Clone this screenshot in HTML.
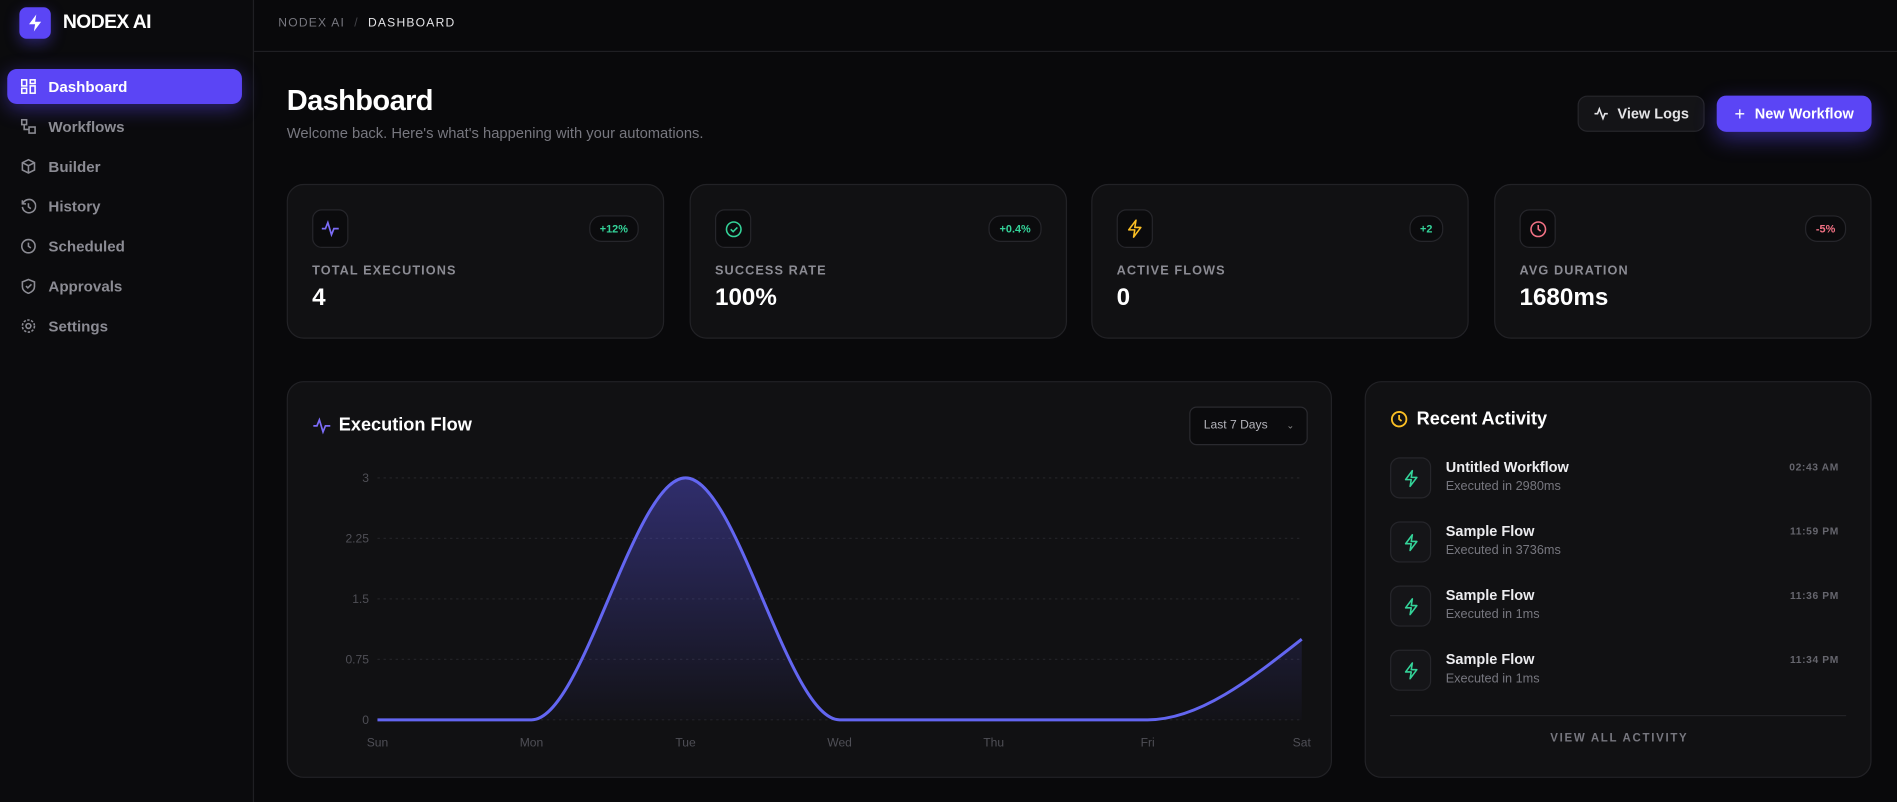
<!DOCTYPE html>
<html><head><meta charset="utf-8">
<style>
html,body{margin:0;padding:0;background:#09090b;overflow:hidden;}
body{width:1897px;height:802px;font-family:"Liberation Sans",sans-serif;}
#root{position:absolute;left:0;top:0;width:1568px;height:663px;transform:scale(1.2098);transform-origin:0 0;background:#09090b;color:#fff;}
.abs{position:absolute;}
.sidebar{left:0;top:0;width:210px;height:663px;background:#0b0b0d;border-right:1px solid #1f1f23;box-sizing:border-box;}
.nav{position:absolute;left:6px;width:194px;height:29px;border-radius:8px;display:flex;align-items:center;font-size:12.5px;font-weight:bold;color:#8b8b93;}
.nav svg{margin-left:11px;margin-right:10px;}
.nav.active{background:#5b45f5;color:#fff;box-shadow:0 4px 16px rgba(91,69,245,.45);}
.card{position:absolute;background:#111113;border:1px solid #222226;border-radius:14px;box-sizing:border-box;}
.ibox{position:absolute;left:20px;top:20px;width:28px;height:30px;border:1px solid #26262b;border-radius:8px;background:#0b0b0d;display:flex;align-items:center;justify-content:center;}
.badge{position:absolute;right:20px;top:25px;height:20px;padding:0 8px;border:1px solid #26262b;border-radius:10px;background:#0b0b0d;font-size:9px;font-weight:bold;line-height:20px;}
.lbl{position:absolute;left:20px;top:65px;font-size:10.5px;font-weight:bold;letter-spacing:0.9px;color:#8b8b93;}
.val{position:absolute;left:20px;top:82px;font-size:20px;font-weight:bold;color:#fff;}
.act{position:absolute;left:20px;width:377px;height:34px;}
.act .ib{position:absolute;left:0;top:0;width:32px;height:32px;border:1px solid #26262b;border-radius:8px;background:#151518;display:flex;align-items:center;justify-content:center;}
.act .n{position:absolute;left:46px;top:1px;font-size:12px;font-weight:bold;color:#ececef;}
.act .s{position:absolute;left:46px;top:18px;font-size:10.5px;color:#77777f;}
.act .t{position:absolute;right:6px;top:3px;font-size:8.5px;font-weight:bold;color:#66666e;letter-spacing:.5px;}
</style></head><body>
<div id="root">
<div class="abs sidebar">
  <div class="abs" style="left:16px;top:6px;width:26px;height:26px;border-radius:6px;background:#5b45f5;display:flex;align-items:center;justify-content:center;box-shadow:0 4px 12px rgba(91,69,245,.4)">
    <svg width="14" height="16" viewBox="0 0 14 16"><path d="M8 1L2 9h5l-1 6 6-8H7z" fill="#fff"/></svg></div>
  <div class="abs" style="left:52px;top:10px;font-size:16px;font-weight:bold;letter-spacing:-.5px">NODEX AI</div>
  <div class="nav active" style="top:57px"><svg width="13" height="13" viewBox="0 0 13 13" fill="none" stroke="#fff" stroke-width="1.3"><rect x="1" y="1" width="4" height="5"/><rect x="8" y="1" width="4" height="3"/><rect x="1" y="8" width="4" height="4"/><rect x="8" y="6" width="4" height="6"/></svg>Dashboard</div>
  <div class="nav" style="top:90px"><svg width="13" height="13" viewBox="0 0 13 13" fill="none" stroke="#8b8b93" stroke-width="1.3"><rect x="1" y="1" width="4" height="4"/><rect x="7" y="7" width="5" height="5"/><path d="M3 5v4h4"/></svg>Workflows</div>
  <div class="nav" style="top:123px"><svg width="13" height="13" viewBox="0 0 13 13" fill="none" stroke="#8b8b93" stroke-width="1.3"><path d="M6.5 1l5 2.5v6L6.5 12l-5-2.5v-6z M1.5 3.5l5 2.5 5-2.5 M6.5 6v6"/></svg>Builder</div>
  <div class="nav" style="top:156px"><svg width="13" height="13" viewBox="0 0 13 13" fill="none" stroke="#8b8b93" stroke-width="1.3"><path d="M2 4a5.5 5.5 0 1 1-.5 3 M1.5 1.5V4.5H4.5 M6.5 4v3l2 1.5"/></svg>History</div>
  <div class="nav" style="top:189px"><svg width="13" height="13" viewBox="0 0 13 13" fill="none" stroke="#8b8b93" stroke-width="1.3"><circle cx="6.5" cy="6.5" r="5.5"/><path d="M6.5 3.5v3l2 1.5"/></svg>Scheduled</div>
  <div class="nav" style="top:222px"><svg width="13" height="13" viewBox="0 0 13 13" fill="none" stroke="#8b8b93" stroke-width="1.3"><path d="M6.5 1l5 2v4c0 3-2.5 4.5-5 5.5-2.5-1-5-2.5-5-5.5V3z M4.5 6.5l1.5 1.5 3-3"/></svg>Approvals</div>
  <div class="nav" style="top:255px"><svg width="13" height="13" viewBox="0 0 13 13" fill="none" stroke="#8b8b93" stroke-width="1.3"><circle cx="6.5" cy="6.5" r="2"/><circle cx="6.5" cy="6.5" r="5" stroke-dasharray="2 1.2"/></svg>Settings</div>
</div>

<div class="abs" style="left:210px;top:42px;width:1358px;height:1px;background:#1f1f23"></div>
<div class="abs" style="left:230px;top:14px;font-size:10px;letter-spacing:1px;color:#77777f">NODEX AI <span style="color:#44444a">&nbsp;/&nbsp;</span> <span style="color:#e4e4e7">DASHBOARD</span></div>

<div class="abs" style="left:237px;top:70px;font-size:24px;font-weight:bold;letter-spacing:-.5px">Dashboard</div>
<div class="abs" style="left:237px;top:103px;font-size:12.2px;color:#77777f">Welcome back. Here's what's happening with your automations.</div>

<div class="abs" style="left:1304px;top:79px;width:105px;height:30px;box-sizing:border-box;border:1px solid #26262b;border-radius:8px;background:#141417;display:flex;align-items:center;justify-content:center;font-size:12px;font-weight:bold;color:#e4e4e7"><svg width="13" height="12" viewBox="0 0 13 12" fill="none" stroke="#e4e4e7" stroke-width="1.3" style="margin-right:7px"><path d="M1 6h2.5l1.5-4 3 8 1.5-4H12"/></svg>View Logs</div>
<div class="abs" style="left:1419px;top:79px;width:128px;height:30px;border-radius:8px;background:#5b45f5;display:flex;align-items:center;justify-content:center;font-size:12px;font-weight:bold;color:#fff;box-shadow:0 6px 18px rgba(91,69,245,.45)"><span style="font-size:15px;font-weight:normal;margin-right:8px">+</span>New Workflow</div>

<div class="card" style="left:237px;top:152px;width:312px;height:128px">
  <div class="ibox"><svg width="16" height="14" viewBox="0 0 16 14" fill="none" stroke="#7c6cf7" stroke-width="1.4"><path d="M1 7h3l2-5 3 10 2-5h4"/></svg></div>
  <div class="badge" style="color:#34d399">+12%</div>
  <div class="lbl">TOTAL EXECUTIONS</div><div class="val">4</div></div>
<div class="card" style="left:570px;top:152px;width:312px;height:128px">
  <div class="ibox"><svg width="15" height="15" viewBox="0 0 15 15" fill="none" stroke="#34d399" stroke-width="1.3"><circle cx="7.5" cy="7.5" r="6"/><path d="M5 7.5l2 2 3.5-3.5"/></svg></div>
  <div class="badge" style="color:#34d399">+0.4%</div>
  <div class="lbl">SUCCESS RATE</div><div class="val">100%</div></div>
<div class="card" style="left:902px;top:152px;width:312px;height:128px">
  <div class="ibox"><svg width="14" height="16" viewBox="0 0 14 16" fill="none" stroke="#fbbf24" stroke-width="1.3" stroke-linejoin="round"><path d="M8 1L2 9h5l-1 6 6-8H7z"/></svg></div>
  <div class="badge" style="color:#34d399">+2</div>
  <div class="lbl">ACTIVE FLOWS</div><div class="val">0</div></div>
<div class="card" style="left:1235px;top:152px;width:312px;height:128px">
  <div class="ibox"><svg width="15" height="15" viewBox="0 0 15 15" fill="none" stroke="#f47285" stroke-width="1.3"><circle cx="7.5" cy="7.5" r="6"/><path d="M7.5 4v3.5l2 1.5"/></svg></div>
  <div class="badge" style="color:#f47285">-5%</div>
  <div class="lbl">AVG DURATION</div><div class="val">1680ms</div></div>

<div class="card" style="left:237px;top:315px;width:864px;height:328px">
  <svg class="abs" style="left:20px;top:29px" width="16" height="14" viewBox="0 0 16 14" fill="none" stroke="#7c6cf7" stroke-width="1.4"><path d="M1 7h3l2-5 3 10 2-5h4"/></svg>
  <div class="abs" style="left:42px;top:27px;font-size:15px;font-weight:bold">Execution Flow</div>
  <div class="abs" style="left:745px;top:20px;width:98px;height:32px;box-sizing:border-box;border:1px solid #2a2a2f;border-radius:6px;background:#0b0b0d;font-size:10px;color:#b4b4bb;line-height:30px;padding-left:11px">Last 7 Days<span style="position:absolute;right:10px;top:0;font-size:8px;color:#888">&#8964;</span></div>
</div>
<svg id="chart" class="abs" style="left:0;top:0" width="1568" height="663"></svg>

<div class="card" style="left:1128px;top:315px;width:419px;height:328px">
  <svg class="abs" style="left:20px;top:23px" width="15" height="15" viewBox="0 0 15 15" fill="none" stroke="#fbbf24" stroke-width="1.5"><circle cx="7.5" cy="7.5" r="6"/><path d="M7.5 4v3.5l2 1.5"/></svg>
  <div class="abs" style="left:42px;top:22px;font-size:15px;font-weight:bold">Recent Activity</div>
  <div class="act" style="top:62px"><div class="ib"><svg width="13" height="15" viewBox="0 0 14 16" fill="none" stroke="#34d399" stroke-width="1.4" stroke-linejoin="round"><path d="M8 1L2 9h5l-1 6 6-8H7z"/></svg></div><div class="n">Untitled Workflow</div><div class="s">Executed in 2980ms</div><div class="t">02:43 AM</div></div>
  <div class="act" style="top:115px"><div class="ib"><svg width="13" height="15" viewBox="0 0 14 16" fill="none" stroke="#34d399" stroke-width="1.4" stroke-linejoin="round"><path d="M8 1L2 9h5l-1 6 6-8H7z"/></svg></div><div class="n">Sample Flow</div><div class="s">Executed in 3736ms</div><div class="t">11:59 PM</div></div>
  <div class="act" style="top:168px"><div class="ib"><svg width="13" height="15" viewBox="0 0 14 16" fill="none" stroke="#34d399" stroke-width="1.4" stroke-linejoin="round"><path d="M8 1L2 9h5l-1 6 6-8H7z"/></svg></div><div class="n">Sample Flow</div><div class="s">Executed in 1ms</div><div class="t">11:36 PM</div></div>
  <div class="act" style="top:221px"><div class="ib"><svg width="13" height="15" viewBox="0 0 14 16" fill="none" stroke="#34d399" stroke-width="1.4" stroke-linejoin="round"><path d="M8 1L2 9h5l-1 6 6-8H7z"/></svg></div><div class="n">Sample Flow</div><div class="s">Executed in 1ms</div><div class="t">11:34 PM</div></div>
  <div class="abs" style="left:20px;top:275px;width:377px;height:1px;background:#222226"></div>
  <div class="abs" style="left:0;width:419px;top:289px;text-align:center;font-size:9.5px;font-weight:bold;letter-spacing:1.4px;color:#77777f">VIEW ALL ACTIVITY</div>
</div>
</div>

<script>
const days = ["Sun","Mon","Tue","Wed","Thu","Fri","Sat"];
const executions = [0,0,3,0,0,0,1];
const yTicks = [0,0.75,1.5,2.25,3];
const yTickLabels = ["0","0.75","1.5","2.25","3"];

const NS="http://www.w3.org/2000/svg";
const svg=document.getElementById('chart');
const X0=312,X1=1076,Y0=595,Y1=395,YMAX=3;
const xs=i=>X0+(X1-X0)*i/(days.length-1);
const ys=v=>Y0-(Y0-Y1)*v/YMAX;
function mk(t,a){const e=document.createElementNS(NS,t);for(const k in a)e.setAttribute(k,a[k]);svg.appendChild(e);return e;}
const defs=mk('defs',{});
defs.innerHTML='<linearGradient id="g" x1="0" y1="0" x2="0" y2="1"><stop offset="0" stop-color="#5b55e8" stop-opacity="0.42"/><stop offset="1" stop-color="#5b55e8" stop-opacity="0.02"/></linearGradient>';
yTicks.forEach((v,i)=>{
  const l=mk('line',{x1:X0,x2:X1,y1:ys(v),y2:ys(v),stroke:'#222226','stroke-dasharray':'2 3'});
  
  
  const t=mk('text',{x:305,y:ys(v)+3.5,'text-anchor':'end','font-size':'10','fill':'#4f4f56','font-family':'Liberation Sans'});
  t.textContent=yTickLabels[i];
  
  
});
days.forEach((d,i)=>{
  const t=mk('text',{x:xs(i),y:617,'text-anchor':'middle','font-size':'10','fill':'#4f4f56','font-family':'Liberation Sans'});
  t.textContent=d;
  
  
});
const px=days.map((d,i)=>xs(i)),py=executions.map(ys);
const n=px.length,m=[],dd=[];
for(let i=0;i<n-1;i++)dd.push((py[i+1]-py[i])/(px[i+1]-px[i]));
for(let i=0;i<n;i++){
  if(i===0||i===n-1){m.push(0);continue;}
  const a=dd[i-1],b=dd[i];
  m.push(a*b<=0?0:2*a*b/(a+b));
}
m[0]=(3*dd[0]-m[1])/2; m[n-1]=(3*dd[n-2]-m[n-2])/2;
let d='M'+px[0]+','+py[0];
for(let i=0;i<n-1;i++){const h=(px[i+1]-px[i])/3;d+=' C'+(px[i]+h)+','+(py[i]+m[i]*h)+' '+(px[i+1]-h)+','+(py[i+1]-m[i+1]*h)+' '+px[i+1]+','+py[i+1];}
const area=mk('path',{d:d+' L'+px[n-1]+','+Y0+' L'+px[0]+','+Y0+' Z',fill:'url(#g)'});


const line=mk('path',{d:d,fill:'none',stroke:'#6366f1','stroke-width':'2.5'});


</script>
</body></html>
